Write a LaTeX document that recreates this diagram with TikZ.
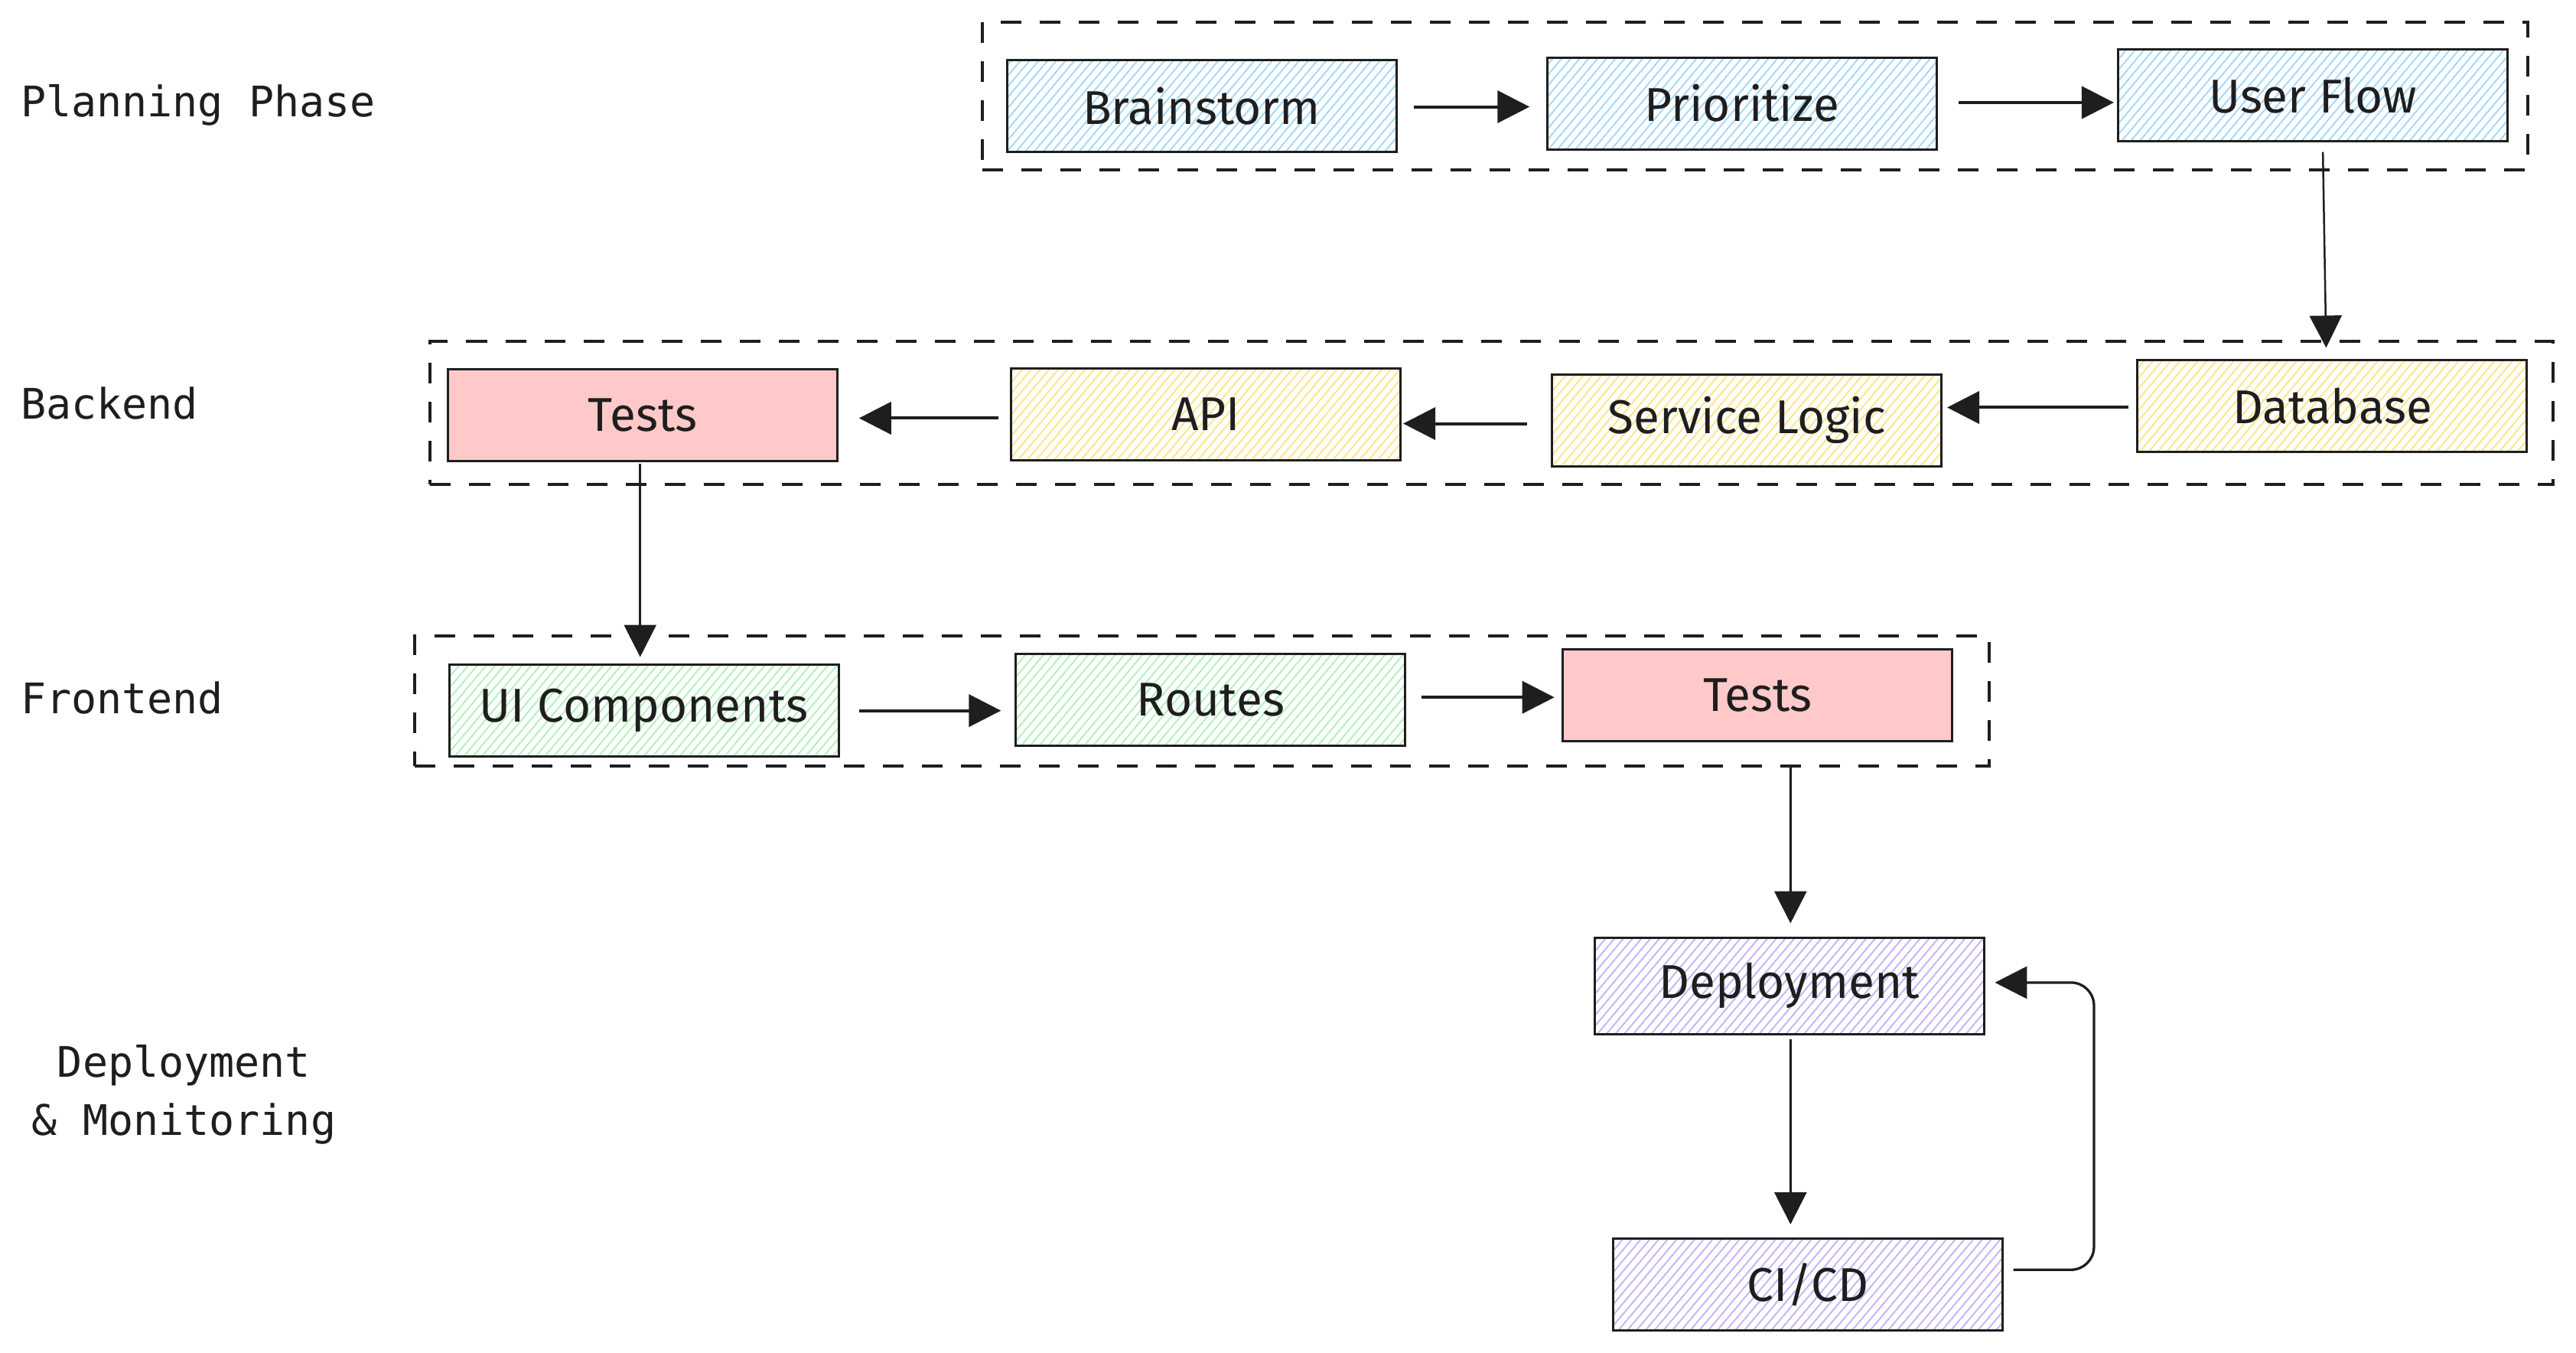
\documentclass[tikz,border=0pt]{standalone}
\usepackage{fontspec}
\setmainfont{Fira Sans}
\newfontfamily\labelfont{DejaVu Sans Mono}
\usetikzlibrary{arrows.meta,patterns.meta,calc}
\definecolor{ink}{HTML}{1E1E1E}
\definecolor{hblue}{HTML}{A5D8FF}
\definecolor{hyellow}{HTML}{FFE588}
\definecolor{hgreen}{HTML}{B2F2BB}
\definecolor{hpurple}{HTML}{C8B4FF}
\definecolor{pinkfill}{HTML}{FFC9C9}
\begin{document}
\begin{tikzpicture}[x=2.147pt,y=-2.147pt,
  box/.style={draw=ink, line width=3pt, minimum width=509pt, minimum height=120pt, inner sep=0pt, font=\fontsize{62}{74}\selectfont, text=ink},
  hatch/.style={pattern={Lines[angle=50,distance=9pt,line width=2pt]}, pattern color=#1},
  frame/.style={draw=ink, line width=4pt, dash pattern=on 27pt off 24pt, inner sep=0pt},
  harr/.style={draw=ink, line width=4pt, -{Triangle[length=42pt,width=42pt]}},
  varr/.style={draw=ink, line width=2.5pt, -{Triangle[length=42pt,width=42pt]}},
  lbl/.style={font=\labelfont\fontsize{55}{76.5}\selectfont, text=ink, inner sep=0pt}
]
\useasboundingbox (0,0) rectangle (1568.2,823);

% group frames
\node[frame, minimum width=2020pt, minimum height=193pt] (fplan) at (1068.5,58.4) {};
\node[frame, minimum width=2774pt, minimum height=187pt] (fback) at (908,251.5) {};
\node[frame, minimum width=2058pt, minimum height=170pt] (ffront) at (731.8,426.7) {};

% lane labels
\node[lbl, anchor=base west] (lplan) at (12.5,71.2) {Planning Phase};
\node[lbl, anchor=base west] (lback) at (12.5,255.2) {Backend};
\node[lbl, anchor=base west] (lfront) at (12.5,434.4) {Frontend};
\node[lbl, align=center, anchor=base] (ldep) at (112,691) {Deployment\\\& Monitoring};

% planning
\node[box, hatch=hblue] (brain) at (731.5,64.5) {Brainstorm};
\node[box, hatch=hblue] (prio) at (1060.4,62.9) {Prioritize};
\node[box, hatch=hblue] (uflow) at (1408.1,58.2) {User Flow};

% backend
\node[box, fill=pinkfill] (btests) at (391.3,252.6) {Tests};
\node[box, hatch=hyellow] (api) at (734,252.2) {API};
\node[box, hatch=hyellow] (svc) at (1063.5,255.8) {Service Logic};
\node[box, hatch=hyellow] (db) at (1419.8,247.3) {Database};

% frontend
\node[box, hatch=hgreen] (ui) at (392,432.5) {UI Components};
\node[box, hatch=hgreen] (routes) at (737,426) {Routes};
\node[box, fill=pinkfill] (ftests) at (1070,423.3) {Tests};

% deployment
\node[box, hatch=hpurple, minimum height=126pt] (deploy) at (1089.2,600) {Deployment};
\node[box, hatch=hpurple] (cicd) at (1100.5,781.8) {CI/CD};

% horizontal connectors
\draw[harr] ($(brain.east)+(10,0.5)$) -- ($(brain.east -| prio.west)+(-10,0.5)$);
\draw[harr] ($(prio.east)+(12.7,-0.5)$) -- ($(prio.east -| uflow.west)+(-2,-0.5)$);
\draw[harr] ($(db.west)+(-5,0.7)$) -- ($(db.west -| svc.east)+(2.6,0.7)$);
\draw[harr] ($(svc.west)+(-14.7,2)$) -- ($(svc.west -| api.east)+(1,2)$);
\draw[harr] ($(api.west)+(-6.8,2.3)$) -- ($(api.west -| btests.east)+(12.4,2.3)$);
\draw[harr] ($(ui.east)+(11.8,0)$) -- ($(ui.east -| routes.west)+(-8.4,0)$);
\draw[harr] ($(routes.east)+(9.2,-1.6)$) -- ($(routes.east -| ftests.west)+(-4.5,-1.6)$);

% vertical connectors
\draw[varr] ($(uflow.south)+(6,5.7)$) -- ($(db.north)+(-3.7,-7)$);
\draw[varr] ($(btests.south)+(-1.6,1)$) -- ($(ui.north)+(-2.3,-4)$);
\draw[varr, line width=3pt] ($(ftests.south)+(20,15)$) -- ($(deploy.north)+(0.8,-8)$);
\draw[varr, line width=3pt] ($(deploy.south)+(0.8,2.5)$) -- ($(cicd.north)+(-10.5,-8)$);

% feedback loop
\draw[harr, line width=3.3pt, rounded corners=30pt] ($(cicd.east)+(6,-9)$) -- ++(49,0) |- ($(deploy.east)+(6,-2)$);
\end{tikzpicture}
\end{document}
